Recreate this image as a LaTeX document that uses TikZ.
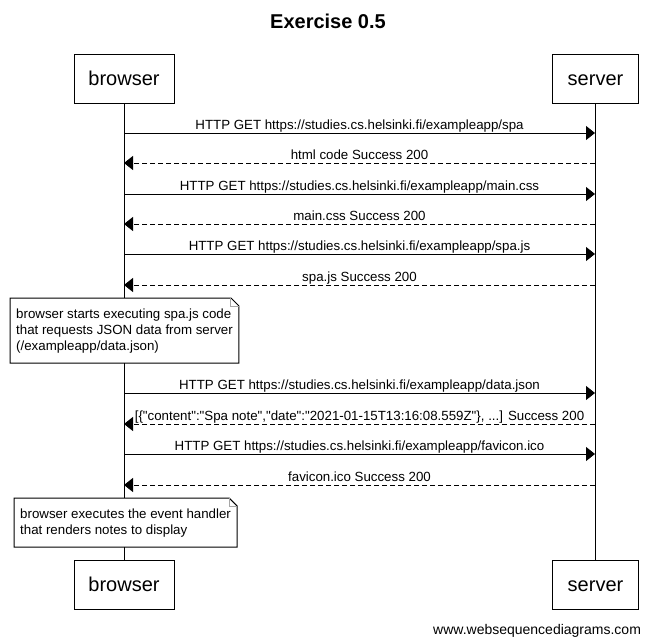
\documentclass[tikz,border=0pt]{standalone}
\usepackage{fontspec}
\newfontfamily\wsd{Liberation Sans}
\usetikzlibrary{arrows.meta,calc}
\tikzset{
  actor/.style={draw, line width=1pt, fill=white,
    font=\wsd\fontsize{20}{24}\selectfont,
    text height=14pt, text depth=1pt, minimum height=49pt, inner sep=0pt},
  life/.style={line width=1pt},
  msg/.style={line width=1pt, -{Triangle[length=9pt,width=14pt]}},
  ret/.style={msg, dash pattern=on 5pt off 3pt},
  lbl/.style={font=\wsd\fontsize{13.3}{16}\selectfont, anchor=base,
    yshift=4pt, inner sep=0pt},
  note/.style={fill=white, font=\wsd\fontsize{13.3}{16}\selectfont,
    align=left, inner xsep=6pt, inner ysep=10.2pt, anchor=north west},
  noteline/.style={line width=1pt},
  fold/.style={line width=1pt, gray!70},
}
\begin{document}
\begin{tikzpicture}[x=1pt, y=-1pt]
\useasboundingbox (0,0) rectangle (653,643);

% title
\node[font=\wsd\bfseries\fontsize{20}{24}\selectfont, anchor=base] (title) at (328,28) {Exercise 0.5};

% participants
\node[actor, minimum width=100pt] (bt) at (124,78.5) {browser};
\node[actor, minimum width=86pt] (st) at (595.5,78.5) {server};
\node[actor, minimum width=100pt] (bb) at (124,584.5) {browser};
\node[actor, minimum width=86pt] (sb) at (595.5,584.5) {server};

% lifelines
\draw[life] (bt.south) -- (bb.north);
\draw[life] (st.south) -- (sb.north);

% message end points on the lifelines
\foreach \i/\y in {1/133,2/163,3/194,4/224,5/254,6/285,7/393,8/424,9/454,10/485}{
  \coordinate (b\i) at (124,\y);
  \coordinate (s\i) at (595,\y);
}

% messages
\draw[msg] (b1) -- node[lbl] {HTTP GET https://studies.cs.helsinki.fi/exampleapp/spa} (s1);
\draw[ret] (s2) -- node[lbl] {html code Success 200} (b2);
\draw[msg] (b3) -- node[lbl] {HTTP GET https://studies.cs.helsinki.fi/exampleapp/main.css} (s3);
\draw[ret] (s4) -- node[lbl] {main.css Success 200} (b4);
\draw[msg] (b5) -- node[lbl] {HTTP GET https://studies.cs.helsinki.fi/exampleapp/spa.js} (s5);
\draw[ret] (s6) -- node[lbl] {spa.js Success 200} (b6);
\draw[msg] (b7) -- node[lbl] {HTTP GET https://studies.cs.helsinki.fi/exampleapp/data.json} (s7);
\draw[ret] (s8) -- node[lbl] {[\{"content":"Spa note","date":"2021-01-15T13:16:08.559Z"\}, ...] Success 200} (b8);
\draw[msg] (b9) -- node[lbl] {HTTP GET https://studies.cs.helsinki.fi/exampleapp/favicon.ico} (s9);
\draw[ret] (s10) -- node[lbl] {favicon.ico Success 200} (b10);

% notes
\node[note] (n1) at (10,298)
  {browser starts executing spa.js code\\that requests JSON data from server\\(/exampleapp/data.json)};
\draw[noteline] (n1.north west) -- ($(n1.north east)+(-8,0)$) -- ($(n1.north east)+(0,8)$)
  -- (n1.south east) -- (n1.south west) -- cycle;
\draw[fold] ($(n1.north east)+(-8,0)$) |- ($(n1.north east)+(0,8)$);

\node[note] (n2) at (14,498)
  {browser executes the event handler\\that renders notes to display};
\draw[noteline] (n2.north west) -- ($(n2.north east)+(-8,0)$) -- ($(n2.north east)+(0,8)$)
  -- (n2.south east) -- (n2.south west) -- cycle;
\draw[fold] ($(n2.north east)+(-8,0)$) |- ($(n2.north east)+(0,8)$);

% credit line
\node[font=\wsd\fontsize{14}{17}\selectfont, anchor=base west, inner sep=0pt] (credit) at (433,634) {www.websequencediagrams.com};
\end{tikzpicture}
\end{document}
